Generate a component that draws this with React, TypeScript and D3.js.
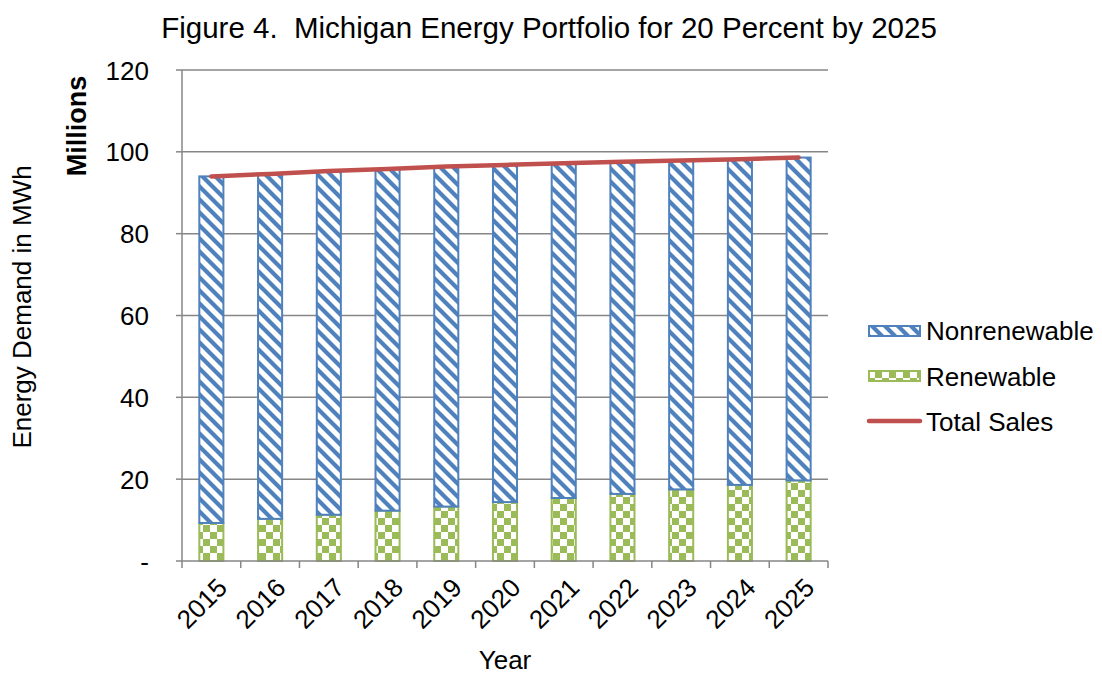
import React from 'react';
import * as d3 from 'd3';

const years = ['2015', '2016', '2017', '2018', '2019', '2020', '2021', '2022', '2023', '2024', '2025'];
const renewable = [9.3, 10.3, 11.3, 12.3, 13.3, 14.4, 15.4, 16.4, 17.5, 18.6, 19.7];
const totalSales = [94.0, 94.6, 95.3, 95.8, 96.4, 96.8, 97.2, 97.6, 97.9, 98.2, 98.6];
const nonrenewable = totalSales.map((t, i) => t - renewable[i]);
const yTicks = [0, 20, 40, 60, 80, 100, 120];

const W = 1102;
const H = 675;
const left = 182;
const right = 828;
const top = 70;
const bottom = 561;

const blue = '#4F81BD';
const green = '#9BBB59';
const red = '#C0504D';
const grid = '#868686';
const font = 'Arial, "Liberation Sans", sans-serif';

export default function App() {
  const x = d3.scaleBand<string>().domain(years).range([left, right]).paddingInner(0.59).paddingOuter(0.295);
  const band = d3.scaleBand<string>().domain(years).range([left, right]);
  const y = d3.scaleLinear().domain([0, 120]).range([bottom, top]);

  const line = d3.line<number>()
    .x((_, i) => (x(years[i]) as number) + x.bandwidth() / 2)
    .y(d => y(d));

  return (
    <svg width={W} height={H} style={{ position: 'absolute', left: 0, top: 0, background: '#fff' }}>
      <defs>
        <pattern id="stripes" width="13" height="13" patternUnits="userSpaceOnUse">
          <rect width="13" height="13" fill="#fff" />
          <path d="M-3,-3 L16,16 M-3,10 L3,16 M10,-3 L16,3" stroke={blue} strokeWidth="4.2" />
        </pattern>
        <pattern id="checks" width="14" height="14" patternUnits="userSpaceOnUse">
          <rect width="14" height="14" fill="#fff" />
          <rect x="0" y="0" width="7" height="7" fill={green} />
          <rect x="7" y="7" width="7" height="7" fill={green} />
        </pattern>
      </defs>

      <text x={549} y={38} textAnchor="middle" fontFamily={font} fontSize={29.5} fill="#000" xmlSpace="preserve">
        {'Figure 4.  Michigan Energy Portfolio for 20 Percent by 2025'}
      </text>

      {/* gridlines and y ticks */}
      {yTicks.map(t => (
        <g key={t}>
          {t > 0 && <line x1={left} x2={right} y1={y(t)} y2={y(t)} stroke={grid} strokeWidth={1.5} />}
          <line x1={left - 6} x2={left} y1={y(t)} y2={y(t)} stroke={grid} strokeWidth={1.5} />
          <text x={149} y={y(t) + 9.5} textAnchor="end" fontFamily={font} fontSize={26} fill="#000">
            {t === 0 ? '-' : t}
          </text>
        </g>
      ))}

      {/* bars */}
      {years.map((yr, i) => {
        const bx = x(yr) as number;
        const bw = x.bandwidth();
        return (
          <g key={yr}>
            <rect x={bx} y={y(renewable[i])} width={bw} height={y(0) - y(renewable[i])}
              fill="url(#checks)" stroke={green} strokeWidth={2} />
            <rect x={bx} y={y(renewable[i] + nonrenewable[i])} width={bw}
              height={y(renewable[i]) - y(renewable[i] + nonrenewable[i])}
              fill="url(#stripes)" stroke={blue} strokeWidth={2} />
          </g>
        );
      })}

      {/* axes */}
      <line x1={left} x2={left} y1={top} y2={bottom} stroke={grid} strokeWidth={1.5} />
      <line x1={left} x2={right} y1={bottom} y2={bottom} stroke={grid} strokeWidth={1.5} />
      {years.concat(['end']).map((yr, i) => {
        const tx = left + i * band.step();
        return <line key={yr} x1={tx} x2={tx} y1={bottom} y2={bottom + 7} stroke={grid} strokeWidth={1.5} />;
      })}

      <path d={line(totalSales) || ''} fill="none" stroke={red} strokeWidth={4.5} strokeLinecap="round" />

      {/* x labels */}
      {years.map(yr => {
        const cx = (band(yr) as number) + band.bandwidth() / 2 + 4;
        return (
          <text key={yr} transform={`translate(${cx},${576}) rotate(-45)`} textAnchor="end"
            fontFamily={font} fontSize={26} fill="#000" dy="0.72em">
            {yr}
          </text>
        );
      })}

      <text x={505} y={669} textAnchor="middle" fontFamily={font} fontSize={26} fill="#000">Year</text>
      <text transform="translate(31,307) rotate(-90)" textAnchor="middle" fontFamily={font} fontSize={26} fill="#000">
        Energy Demand in MWh
      </text>
      <text transform="translate(86,126) rotate(-90)" textAnchor="middle" fontFamily={font} fontSize={27}
        fontWeight="bold" fill="#000">
        Millions
      </text>

      {/* legend */}
      <g fontFamily={font} fontSize={26} fill="#000">
        <rect x={869} y={326} width={51} height={10} fill="url(#stripes)" stroke={blue} strokeWidth={2} />
        <text x={926} y={340}>Nonrenewable</text>
        <rect x={869} y={371} width={51} height={10} fill="url(#checks)" stroke={green} strokeWidth={2} />
        <text x={926} y={386}>Renewable</text>
        <line x1={869} x2={920} y1={421} y2={421} stroke={red} strokeWidth={4.5} strokeLinecap="round" />
        <text x={926} y={431}>Total Sales</text>
      </g>
    </svg>
  );
}
